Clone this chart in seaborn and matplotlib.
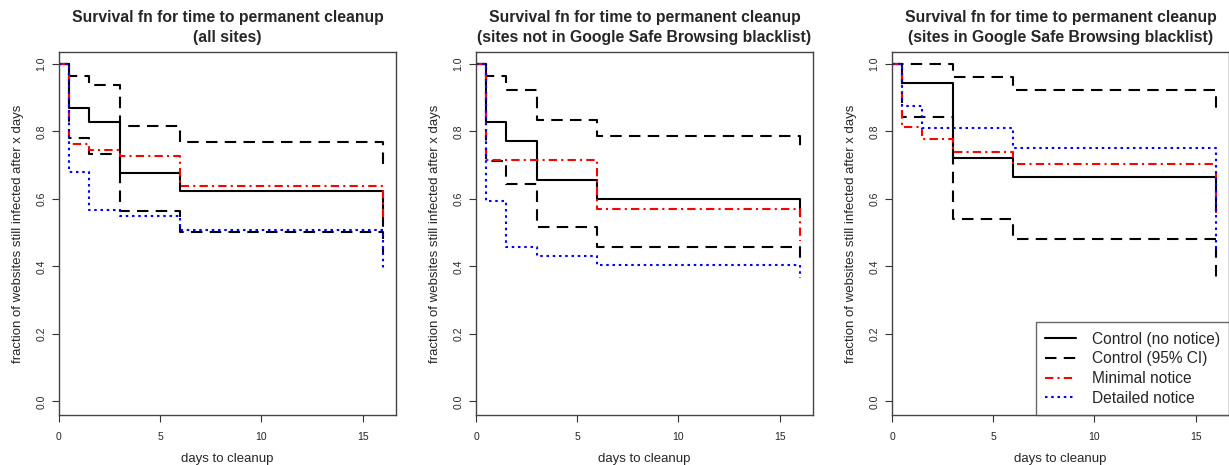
import numpy as np
import pandas as pd
import matplotlib
matplotlib.use("Agg")
import matplotlib.pyplot as plt
import seaborn as sns

# step times (days); last point repeated to draw the final drop
days = [0, 0.5, 1.5, 3, 6, 16, 16]

titles = [
    "Survival fn for time to permanent cleanup\n(all sites)",
    "Survival fn for time to permanent cleanup\n(sites not in Google Safe Browsing blacklist)",
    "Survival fn for time to permanent cleanup\n(sites in Google Safe Browsing blacklist)",
]

# all sites
all_control = [1, 0.869, 0.829, 0.678, 0.622, 0.622, 0.52]
all_ci_hi = [1, 0.964, 0.938, 0.816, 0.767, 0.767, 0.70]
all_ci_lo = [1, 0.781, 0.733, 0.565, 0.503, 0.503, 0.44]
all_minimal = [1, 0.763, 0.745, 0.728, 0.637, 0.637, 0.543]
all_detailed = [1, 0.679, 0.566, 0.548, 0.508, 0.508, 0.388]

# not in blacklist
nb_control = [1, 0.829, 0.772, 0.657, 0.599, 0.599, 0.55]
nb_ci_hi = [1, 0.964, 0.923, 0.834, 0.785, 0.785, 0.75]
nb_ci_lo = [1, 0.711, 0.644, 0.516, 0.457, 0.457, 0.42]
nb_minimal = [1, 0.714, 0.714, 0.714, 0.571, 0.571, 0.474]
nb_detailed = [1, 0.594, 0.459, 0.431, 0.405, 0.405, 0.365]

# in blacklist
bl_control = [1, 0.943, 0.943, 0.721, 0.666, 0.666, 0.56]
bl_ci_hi = [1, 1.0, 1.0, 0.961, 0.923, 0.923, 0.849]
bl_ci_lo = [1, 0.842, 0.842, 0.541, 0.480, 0.480, 0.368]
bl_minimal = [1, 0.812, 0.777, 0.739, 0.703, 0.703, 0.558]
bl_detailed = [1, 0.876, 0.811, 0.811, 0.750, 0.750, 0.45]

panels = [
    (all_control, all_ci_hi, all_ci_lo, all_minimal, all_detailed),
    (nb_control, nb_ci_hi, nb_ci_lo, nb_minimal, nb_detailed),
    (bl_control, bl_ci_hi, bl_ci_lo, bl_minimal, bl_detailed),
]

legend_labels = ["Control (no notice)", "Control (95% CI)", "Minimal notice", "Detailed notice"]

sns.set_style("ticks")
plt.rcParams["font.family"] = ["Liberation Sans", "DejaVu Sans"]

W, H = 1229, 465
fig = plt.figure(figsize=(W / 100, H / 100), dpi=100)

lw = 1.5
styles = {
    "control": dict(color="black", linestyle="-", lw=lw),
    "ci": dict(color="black", linestyle=(0, (5.5, 3.5)), lw=lw),
    "minimal": dict(color="red", linestyle=(0, (4, 2, 1, 2)), lw=lw),
    "detailed": dict(color="blue", linestyle=(0, (1.2, 1.8)), lw=lw),
}

lefts = [59, 476, 892]
box_w = 337
top, bottom = 52, 415

for i, (ctrl, hi, lo, mini, det) in enumerate(panels):
    ax = fig.add_axes([lefts[i] / W, 1 - bottom / H, box_w / W, (bottom - top) / H])
    series = [
        (ctrl, "control"),
        (hi, "ci"),
        (lo, "ci"),
        (mini, "minimal"),
        (det, "detailed"),
    ]
    for vals, key in series:
        df = pd.DataFrame({"days": days, "surv": vals})
        sns.lineplot(data=df, x="days", y="surv", ax=ax, estimator=None, sort=False,
                     drawstyle="steps-post", **styles[key])

    ax.set_xlim(0, 16.65)
    ax.set_ylim(-0.04, 1.035)
    ax.set_xticks([0, 5, 10, 15])
    ax.set_yticks([0.0, 0.2, 0.4, 0.6, 0.8, 1.0])
    ax.set_yticklabels(["0.0", "0.2", "0.4", "0.6", "0.8", "1.0"], rotation=90, va="center")
    ax.tick_params(axis="both", labelsize=7.5, length=5, width=0.8, color="#333333", direction="out", pad=4)
    ax.tick_params(axis="x", pad=7)
    for sp in ax.spines.values():
        sp.set_visible(True)
        sp.set_color("#444444")
        sp.set_linewidth(1.0)
    ax.set_xlabel("days to cleanup", fontsize=9.5, labelpad=8.5)
    ax.set_ylabel("fraction of websites still infected after x days", fontsize=9.5, labelpad=9)
    ax.set_title(titles[i], fontsize=11.3, fontweight="bold", pad=7, linespacing=1.45)

    if i == 2:
        handles = [
            plt.Line2D([], [], **styles["control"]),
            plt.Line2D([], [], **styles["ci"]),
            plt.Line2D([], [], **styles["minimal"]),
            plt.Line2D([], [], **styles["detailed"]),
        ]
        leg = ax.legend(handles, legend_labels, loc="lower right", fontsize=11.2, frameon=True,
                        fancybox=False, edgecolor="#444444", borderaxespad=0, handlelength=2.0,
                        labelspacing=0.3, borderpad=0.6, handletextpad=1.0)
        leg.get_frame().set_linewidth(1.0)

fig.savefig("out.png", dpi=100)
